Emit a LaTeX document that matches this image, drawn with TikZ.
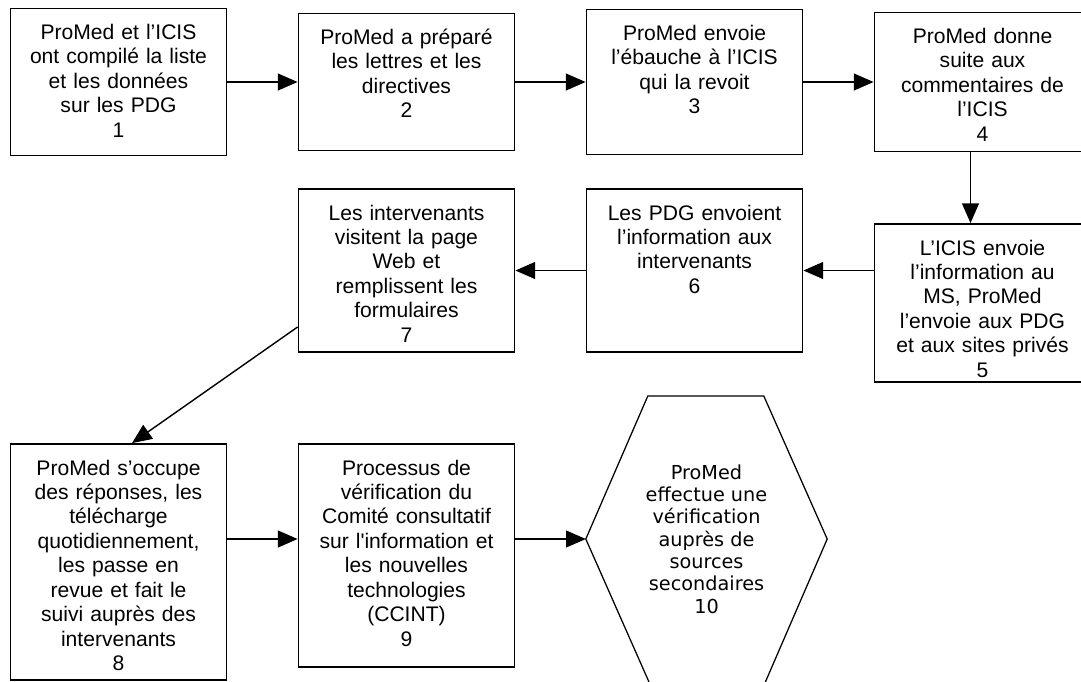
\documentclass[tikz,border=0pt]{standalone}
\usepackage{fontspec}
\setmainfont{Liberation Sans}
\newfontfamily\hexfont{DejaVu Sans}
\usepackage{tikz}
\usetikzlibrary{positioning,arrows.meta}

\tikzset{
	etape/.style={rectangle, draw=black, line width=1.3pt, inner xsep=0.1cm, inner ysep=0pt, text width=5.2cm, align=center, text height=0.775cm, font=\fontsize{15}{17.4}\selectfont},
	hexline/.style={draw=black, line width=0.9pt, -}
}

\begin{document}
\begin{tikzpicture}[-{Triangle[length=14pt,width=12pt]}, node distance = 7.2cm and 7.2cm, on grid, line width=1pt]
			\useasboundingbox (0,0) rectangle (27.025,-17.025);
			\clip (0,0) rectangle (27.025,-17.025);
			\node [etape, text depth=2.9cm] (E1) at (2.9625,-2.05) {ProMed et l’ICIS\\ ont compilé la liste\\ et les données\\ sur les PDG\\ 1};
			\node [etape, text depth=2.65cm] (E2) [right =of E1] {ProMed a préparé\\ les lettres et les\\ directives\\ 2};
			\node [etape, text depth=2.85cm] (E3) [right =of E2] {ProMed envoie\\ l’ébauche à l’ICIS\\ qui la revoit\\ 3};
			\node [etape, text depth=2.7cm] (E4) [right =of E3] {ProMed donne\\ suite aux\\ commentaires de\\ l’ICIS\\ 4};
			\node [etape, text depth=3.175cm] (E5) [below =5.525cm of E4] {L’ICIS envoie\\ l’information au\\ MS, ProMed\\ l’envoie aux PDG\\ et aux sites privés\\ 5};
			\node [etape, text depth=3.3cm] (E6) [below =4.7125cm of E3] {Les PDG envoient\\ l’information aux\\ intervenants\\ 6};
			\node [etape, text depth=3.3cm] (E7) [left =of E6] {Les intervenants\\ visitent la page\\ Web et\\ remplissent les\\ formulaires\\ 7};
			\node [etape, text depth=5.125cm] (E8) [below =12cm of E1] {ProMed s’occupe\\ des réponses, les\\ télécharge\\ quotidiennement,\\ les passe en\\ revue et fait le\\ suivi auprès des\\ intervenants\\ 8};
			\node [etape, text depth=4.8cm] (E9) [right =of E8, yshift=0.1625cm] {Processus de\\ vérification du\\ Comité consultatif\\ sur l\textquotesingle information et\\ les nouvelles\\ technologies\\ (CCINT)\\ 9};
			\node [rectangle, minimum width=6cm, minimum height=7.15cm, inner sep=0pt, align=center, font=\hexfont\fontsize{13.7}{15.9}\selectfont] (E10) [right =7.5cm of E9, yshift=0.4125cm] {ProMed\\ effectue une\\ vérification\\ auprès de\\ sources\\ secondaires\\ 10};
			% bottom of the hexagon runs off the page
			\draw [hexline] (E10.west) -- ++(1.55,3.575) -- ++(2.9,0) -- (E10.east) -- ++(-1.6,-3.7) -- ++(-2.8,0) -- cycle;
			\path (E1) edge (E2);
			\path (E2) edge (E3);
			\path (E3) edge (E4);
			\path ([xshift=-0.3cm]E4.south) edge ([xshift=-0.3cm]E5.north);
			\path (E5.west |- E6) edge (E6);
			\path (E6) edge (E7);
			\path ([yshift=-1.4125cm]E7.west) edge ([xshift=0.3375cm]E8.north);
			\path (E8.east |- E10) edge (E9.west |- E10);
			\path (E9.east |- E10) edge (E10);
		\end{tikzpicture}
\end{document}
